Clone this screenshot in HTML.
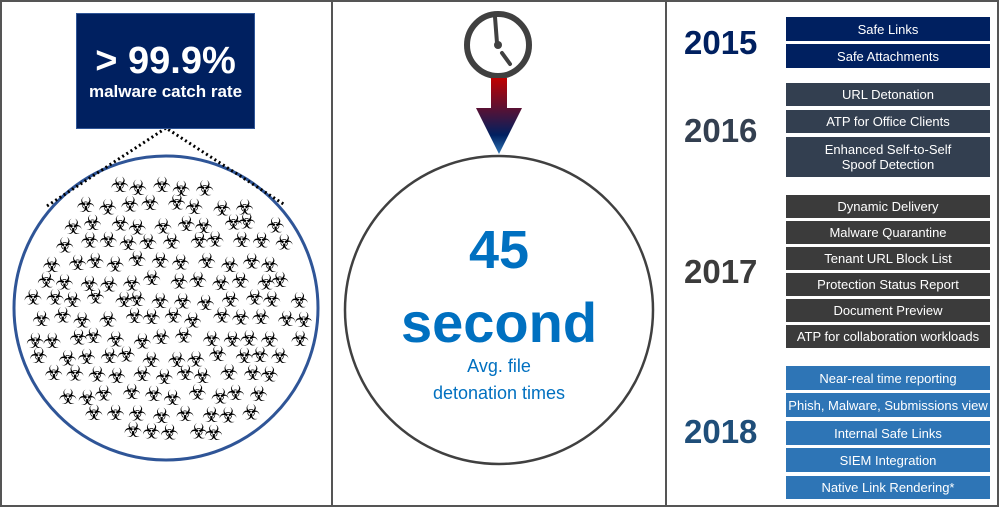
<!DOCTYPE html>
<html><head><meta charset="utf-8"><style>
body{margin:0;width:999px;height:507px;overflow:hidden;background:#fff;font-family:"Liberation Sans","DejaVu Sans",sans-serif}
.frame{position:absolute;left:0;top:0;width:995px;height:503px;border:2px solid #555}
.div{position:absolute;top:0;width:2px;height:507px;background:#555}
.box{position:absolute;left:786px;width:204px;color:#fff;font-size:13px;display:flex;align-items:center;justify-content:center;text-align:center;line-height:15px}
.yr{position:absolute;left:684px;font-size:33px;font-weight:bold}
</style></head><body>
<div class="frame"></div>
<div class="div" style="left:331px"></div>
<div class="div" style="left:665px"></div>
<svg width="999" height="507" style="position:absolute;left:0;top:0">
<defs>
<clipPath id="c"><circle cx="166" cy="308" r="146"/></clipPath>
<linearGradient id="g" x1="0" y1="0" x2="0" y2="1"><stop offset="0" stop-color="#c00000"/><stop offset="0.75" stop-color="#002060"/><stop offset="1" stop-color="#2e75b6"/></linearGradient>
</defs>
<circle cx="166" cy="308" r="152" fill="#fff" stroke="#2f5597" stroke-width="3"/>
<g id="bio" clip-path="url(#c)" font-family="DejaVu Sans" font-size="21" fill="#000"></g>
<polyline points="47,206 166,128 285,205" fill="none" stroke="#000" stroke-width="3" stroke-dasharray="2,3"/>
<circle cx="499" cy="310" r="154" fill="#fff" stroke="#404040" stroke-width="2.5"/>
<circle cx="498" cy="45" r="31" fill="#fff" stroke="#404040" stroke-width="6"/>
<line x1="495" y1="17" x2="497" y2="43" stroke="#404040" stroke-width="4" stroke-linecap="round"/>
<line x1="502" y1="53" x2="510" y2="64" stroke="#404040" stroke-width="4" stroke-linecap="round"/>
<circle cx="498" cy="45" r="4" fill="#404040"/>
<path d="M491,78 H507 V108 H522 L499,154 L476,108 H491 Z" fill="url(#g)"/>
<text x="499" y="268" text-anchor="middle" font-size="54" font-weight="bold" fill="#0070c0">45</text>
<text x="499" y="342" text-anchor="middle" font-size="56" font-weight="bold" fill="#0070c0">second</text>
<text x="499" y="372" text-anchor="middle" font-size="18" fill="#0070c0">Avg. file</text>
<text x="499" y="399" text-anchor="middle" font-size="18" fill="#0070c0">detonation times</text>
</svg>
<div style="position:absolute;left:76px;top:13px;width:177px;height:114px;background:#002060;border:1px solid #2f5597;color:#fff;text-align:center">
<div style="font-size:38px;font-weight:bold;margin-top:27px;line-height:40px">&gt; 99.9%</div>
<div style="font-size:17px;font-weight:bold;line-height:22px">malware catch rate</div>
</div>
<div class="yr" style="top:24px;color:#002060">2015</div>
<div class="yr" style="top:112px;color:#333f50">2016</div>
<div class="yr" style="top:253px;color:#3b3b3b">2017</div>
<div class="yr" style="top:413px;color:#1f4e79">2018</div>
<div class="box" style="top:17px;height:24px;background:#002060">Safe Links</div>
<div class="box" style="top:44px;height:24px;background:#002060">Safe Attachments</div>
<div class="box" style="top:83px;height:23px;background:#333f50">URL Detonation</div>
<div class="box" style="top:110px;height:23px;background:#333f50">ATP for Office Clients</div>
<div class="box" style="top:137px;height:40px;background:#333f50">Enhanced Self-to-Self<br>Spoof Detection</div>
<div class="box" style="top:195px;height:23px;background:#3b3b3b">Dynamic Delivery</div>
<div class="box" style="top:221px;height:23px;background:#3b3b3b">Malware Quarantine</div>
<div class="box" style="top:247px;height:23px;background:#3b3b3b">Tenant URL Block List</div>
<div class="box" style="top:273px;height:23px;background:#3b3b3b">Protection Status Report</div>
<div class="box" style="top:299px;height:23px;background:#3b3b3b">Document Preview</div>
<div class="box" style="top:325px;height:23px;background:#3b3b3b">ATP for collaboration workloads</div>
<div class="box" style="top:366px;height:24px;background:#2e75b6">Near-real time reporting</div>
<div class="box" style="top:393px;height:24px;background:#2e75b6">Phish, Malware, Submissions view</div>
<div class="box" style="top:421px;height:24px;background:#2e75b6">Internal Safe Links</div>
<div class="box" style="top:448px;height:24px;background:#2e75b6">SIEM Integration</div>
<div class="box" style="top:476px;height:23px;background:#2e75b6">Native Link Rendering*</div>
<script>
var g=document.getElementById('bio'),s='',seed=7;
function r(){seed=(seed*9301+49297)%233280;return seed/233280;}
var row=0;
for(var y=166;y<460;y+=19,row++){for(var x=20;x<320;x+=22){var xx=x+(r()-0.5)*10+(row%2)*11,yy=y+(r()-0.5)*7;
var dx=xx-166,dy=yy-308;if(dx*dx+dy*dy<138*138)s+='<text x="'+(xx-9).toFixed(1)+'" y="'+(yy+8).toFixed(1)+'">\u2623</text>';}}
g.innerHTML=s;
</script>
</body></html>
